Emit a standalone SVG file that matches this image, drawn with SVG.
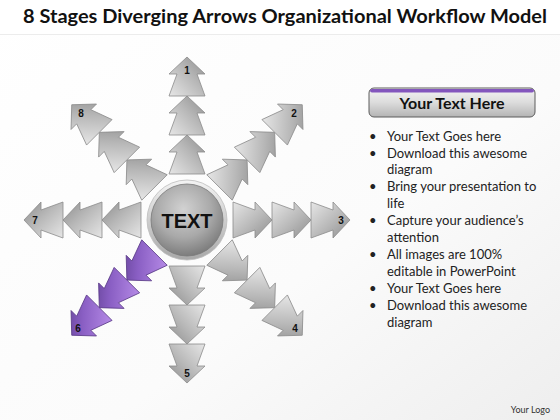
<svg xmlns="http://www.w3.org/2000/svg" width="560" height="420" viewBox="0 0 560 420">
<defs>
<linearGradient id="bg" x1="0" y1="0" x2="1" y2="1">
<stop offset="0" stop-color="#ffffff"/><stop offset="0.6" stop-color="#fbfbfb"/><stop offset="1" stop-color="#eeeeee"/>
</linearGradient>
<linearGradient id="gGray" x1="0" y1="0" x2="1" y2="1">
<stop offset="0" stop-color="#e6e6e6"/><stop offset="0.55" stop-color="#b8b8b8"/><stop offset="1" stop-color="#8e8e8e"/>
</linearGradient>
<linearGradient id="gPurple" x1="0" y1="0" x2="1" y2="1">
<stop offset="0" stop-color="#b58ae6"/><stop offset="0.55" stop-color="#8a5fc4"/><stop offset="1" stop-color="#5d3d8f"/>
</linearGradient>
<radialGradient id="gCircle" cx="0.45" cy="0.35" r="0.65">
<stop offset="0" stop-color="#d2d2d2"/><stop offset="0.6" stop-color="#a9a9a9"/><stop offset="1" stop-color="#7d7d7d"/>
</radialGradient>
<linearGradient id="gRim" x1="0" y1="0" x2="0" y2="1">
<stop offset="0" stop-color="#f4f4f4"/><stop offset="1" stop-color="#a8a8a8"/>
</linearGradient>
<linearGradient id="gBtn" x1="0" y1="0" x2="0" y2="1">
<stop offset="0" stop-color="#f4f4f4"/><stop offset="0.5" stop-color="#dcdcdc"/><stop offset="1" stop-color="#b4b4b4"/>
</linearGradient>
<path id="arr" d="M0,-18 L22,-10 L22,-18 L39,0 L22,18 L22,10 L0,18 Z"/>
</defs>
<style>
.a{fill:url(#gGray);stroke:#8c8c8c;stroke-width:0.8;stroke-linejoin:round}
.p{fill:url(#gPurple);stroke:#5a3a88;stroke-width:0.8;stroke-linejoin:round}
.n{font-family:"Liberation Sans",Arial,sans-serif;font-weight:bold;font-size:10px;fill:#111;text-anchor:middle}
.b{font-family:Lato,"Liberation Sans",sans-serif;font-size:13px;fill:#222}
</style>
<rect x="0" y="0" width="560" height="420" fill="url(#bg)"/>
<rect x="0" y="0" width="560" height="34" fill="#ffffff"/>
<line x1="0" y1="34.5" x2="560" y2="34.5" stroke="#ececec" stroke-width="1"/>
<text x="285" y="23" font-family="Lato,'Liberation Sans',sans-serif" font-weight="bold" font-size="18" fill="#111" text-anchor="middle" textLength="524" lengthAdjust="spacingAndGlyphs">8 Stages Diverging Arrows Organizational Workflow Model</text>

<g id="stage1" transform="translate(187,220) rotate(-90)">
<use href="#arr" class="a" transform="translate(46,0)"/><use href="#arr" class="a" transform="translate(85,0)"/><use href="#arr" class="a" transform="translate(124,0)"/>
</g>
<g id="stage2" transform="translate(187,220) rotate(-45)">
<use href="#arr" class="a" transform="translate(46,0)"/><use href="#arr" class="a" transform="translate(85,0)"/><use href="#arr" class="a" transform="translate(124,0)"/>
</g>
<g id="stage3" transform="translate(187,220) rotate(0)">
<use href="#arr" class="a" transform="translate(46,0)"/><use href="#arr" class="a" transform="translate(85,0)"/><use href="#arr" class="a" transform="translate(124,0)"/>
</g>
<g id="stage4" transform="translate(187,220) rotate(45)">
<use href="#arr" class="a" transform="translate(46,0)"/><use href="#arr" class="a" transform="translate(85,0)"/><use href="#arr" class="a" transform="translate(124,0)"/>
</g>
<g id="stage5" transform="translate(187,220) rotate(90)">
<use href="#arr" class="a" transform="translate(46,0)"/><use href="#arr" class="a" transform="translate(85,0)"/><use href="#arr" class="a" transform="translate(124,0)"/>
</g>
<g id="stage6" transform="translate(187,220) rotate(135)">
<use href="#arr" class="p" transform="translate(46,0)"/><use href="#arr" class="p" transform="translate(85,0)"/><use href="#arr" class="p" transform="translate(124,0)"/>
</g>
<g id="stage7" transform="translate(187,220) rotate(180)">
<use href="#arr" class="a" transform="translate(46,0)"/><use href="#arr" class="a" transform="translate(85,0)"/><use href="#arr" class="a" transform="translate(124,0)"/>
</g>
<g id="stage8" transform="translate(187,220) rotate(-135)">
<use href="#arr" class="a" transform="translate(46,0)"/><use href="#arr" class="a" transform="translate(85,0)"/><use href="#arr" class="a" transform="translate(124,0)"/>
</g>

<g id="labels">
<text class="n" x="187" y="74">1</text>
<text class="n" x="294" y="117">2</text>
<text class="n" x="341" y="224">3</text>
<text class="n" x="295" y="332">4</text>
<text class="n" x="187" y="377">5</text>
<text class="n" x="78" y="332">6</text>
<text class="n" x="35" y="224">7</text>
<text class="n" x="81" y="117">8</text>
</g>

<g id="center">
<circle cx="187" cy="220" r="40" fill="url(#gRim)" stroke="#bdbdbd" stroke-width="0.8"/>
<circle cx="187" cy="220" r="36" fill="url(#gCircle)" stroke="#7a7a7a" stroke-width="0.8"/>
<text x="187" y="228" font-family="'Liberation Sans',Arial,sans-serif" font-weight="bold" font-size="20" fill="#111" text-anchor="middle">TEXT</text>
</g>

<g id="panel">
<rect x="369" y="88" width="166" height="29" rx="5" fill="url(#gBtn)" stroke="#5c5c5c" stroke-width="1"/>
<rect x="370" y="89" width="164" height="3.5" rx="2" fill="#8356bd"/>
<text x="452" y="109" font-family="Lato,'Liberation Sans',sans-serif" font-weight="bold" font-size="16" fill="#111" text-anchor="middle">Your Text Here</text>
<g class="b">
<text x="369" y="141">•</text><text x="387" y="141">Your Text Goes here</text>
<text x="369" y="158">•</text><text x="387" y="158">Download this awesome</text>
<text x="387" y="174">diagram</text>
<text x="369" y="191">•</text><text x="387" y="191">Bring your presentation to</text>
<text x="387" y="208">life</text>
<text x="369" y="225">•</text><text x="387" y="225">Capture your audience’s</text>
<text x="387" y="242">attention</text>
<text x="369" y="259">•</text><text x="387" y="259">All images are 100%</text>
<text x="387" y="276">editable in PowerPoint</text>
<text x="369" y="293">•</text><text x="387" y="293">Your Text Goes here</text>
<text x="369" y="310">•</text><text x="387" y="310">Download this awesome</text>
<text x="387" y="327">diagram</text>
</g>
</g>
<text x="550" y="413" font-family="Lato,'Liberation Sans',sans-serif" font-size="9" fill="#333" text-anchor="end">Your Logo</text>
</svg>
